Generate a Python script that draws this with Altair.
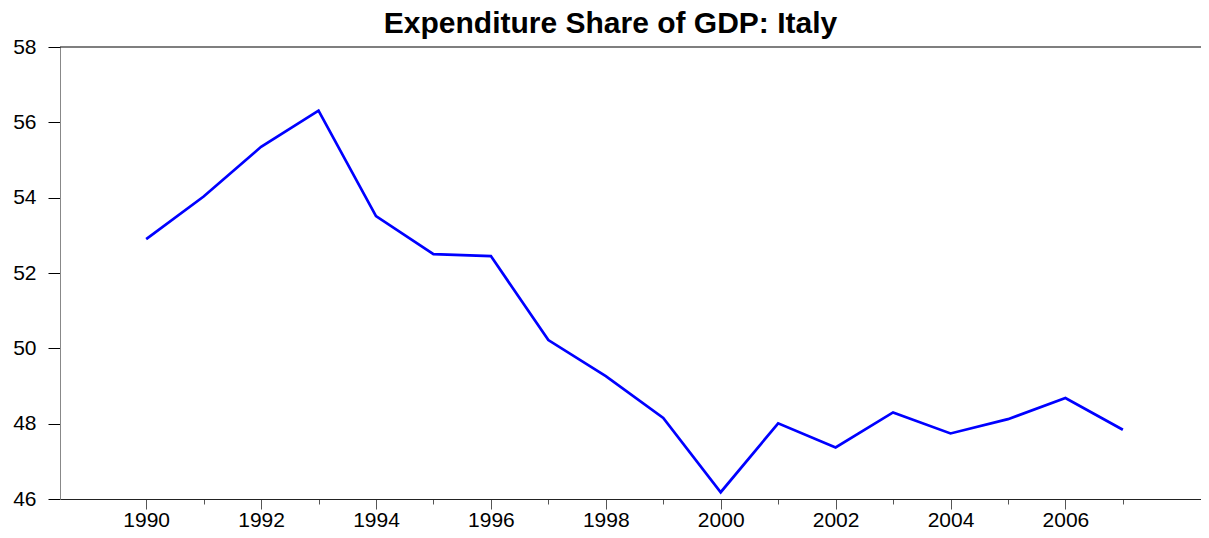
import altair as alt
import pandas as pd

years = list(range(1990, 2008))
values = [52.90, 54.03, 55.35, 56.31, 53.51, 52.50, 52.45, 50.22, 49.26, 48.15,
          46.18, 48.01, 47.37, 48.30, 47.74, 48.12, 48.68, 47.84]
y_ticks = [46, 48, 50, 52, 54, 56, 58]
x_ticks = years
y_top = [58]
title_text = "Expenditure Share of GDP: Italy"

df = pd.DataFrame({"year": years, "value": values})
top_df = pd.DataFrame({"v": y_top})

FONT = "Liberation Sans"

# 57.45 px per year; plot right edge stops at the page's usable width
x_scale = alt.Scale(domain=[1988.5, 2008.36], nice=False, zero=False)
y_scale = alt.Scale(domain=[46, 58], nice=False, zero=False)

line = alt.Chart(df).mark_line(color="#0000FF", strokeWidth=2.7).encode(
    x=alt.X("year:Q", scale=x_scale,
            axis=alt.Axis(values=x_ticks, title=None, format="d", grid=False,
                          labelExpr="datum.value % 2 === 0 ? datum.label : ''",
                          tickSize={"condition": {"test": "datum.value % 2 === 0", "value": 10}, "value": 5},
                          tickColor="#555555", domainColor="#222222",
                          labelFont=FONT, labelFontSize=21, labelColor="black",
                          labelPadding=0, labelFlush=False, labelOverlap=False)),
    y=alt.Y("value:Q", scale=y_scale,
            axis=alt.Axis(values=y_ticks, title=None, grid=False,
                          tickSize=12, tickColor="black", domainColor="#888888",
                          labelFont=FONT, labelFontSize=21, labelColor="black",
                          labelPadding=12, labelFlush=False, labelOverlap=False)),
)

top_rule = alt.Chart(top_df).mark_rule(color="black", strokeWidth=1.2).encode(
    y=alt.Y("v:Q", scale=y_scale)
)

chart = alt.layer(line, top_rule).properties(
    width=1141, height=452,
    padding={"left": 52, "top": 39, "right": 0, "bottom": 31},
    autosize=alt.AutoSizeParams(type="none"),
    title=alt.TitleParams(title_text, font=FONT, fontSize=30, fontWeight="bold",
                          color="black", anchor="middle", dx=-20, dy=5, offset=2),
).configure_view(stroke=None)

chart.save("out.html", embed_options={"renderer": "svg", "actions": False})
